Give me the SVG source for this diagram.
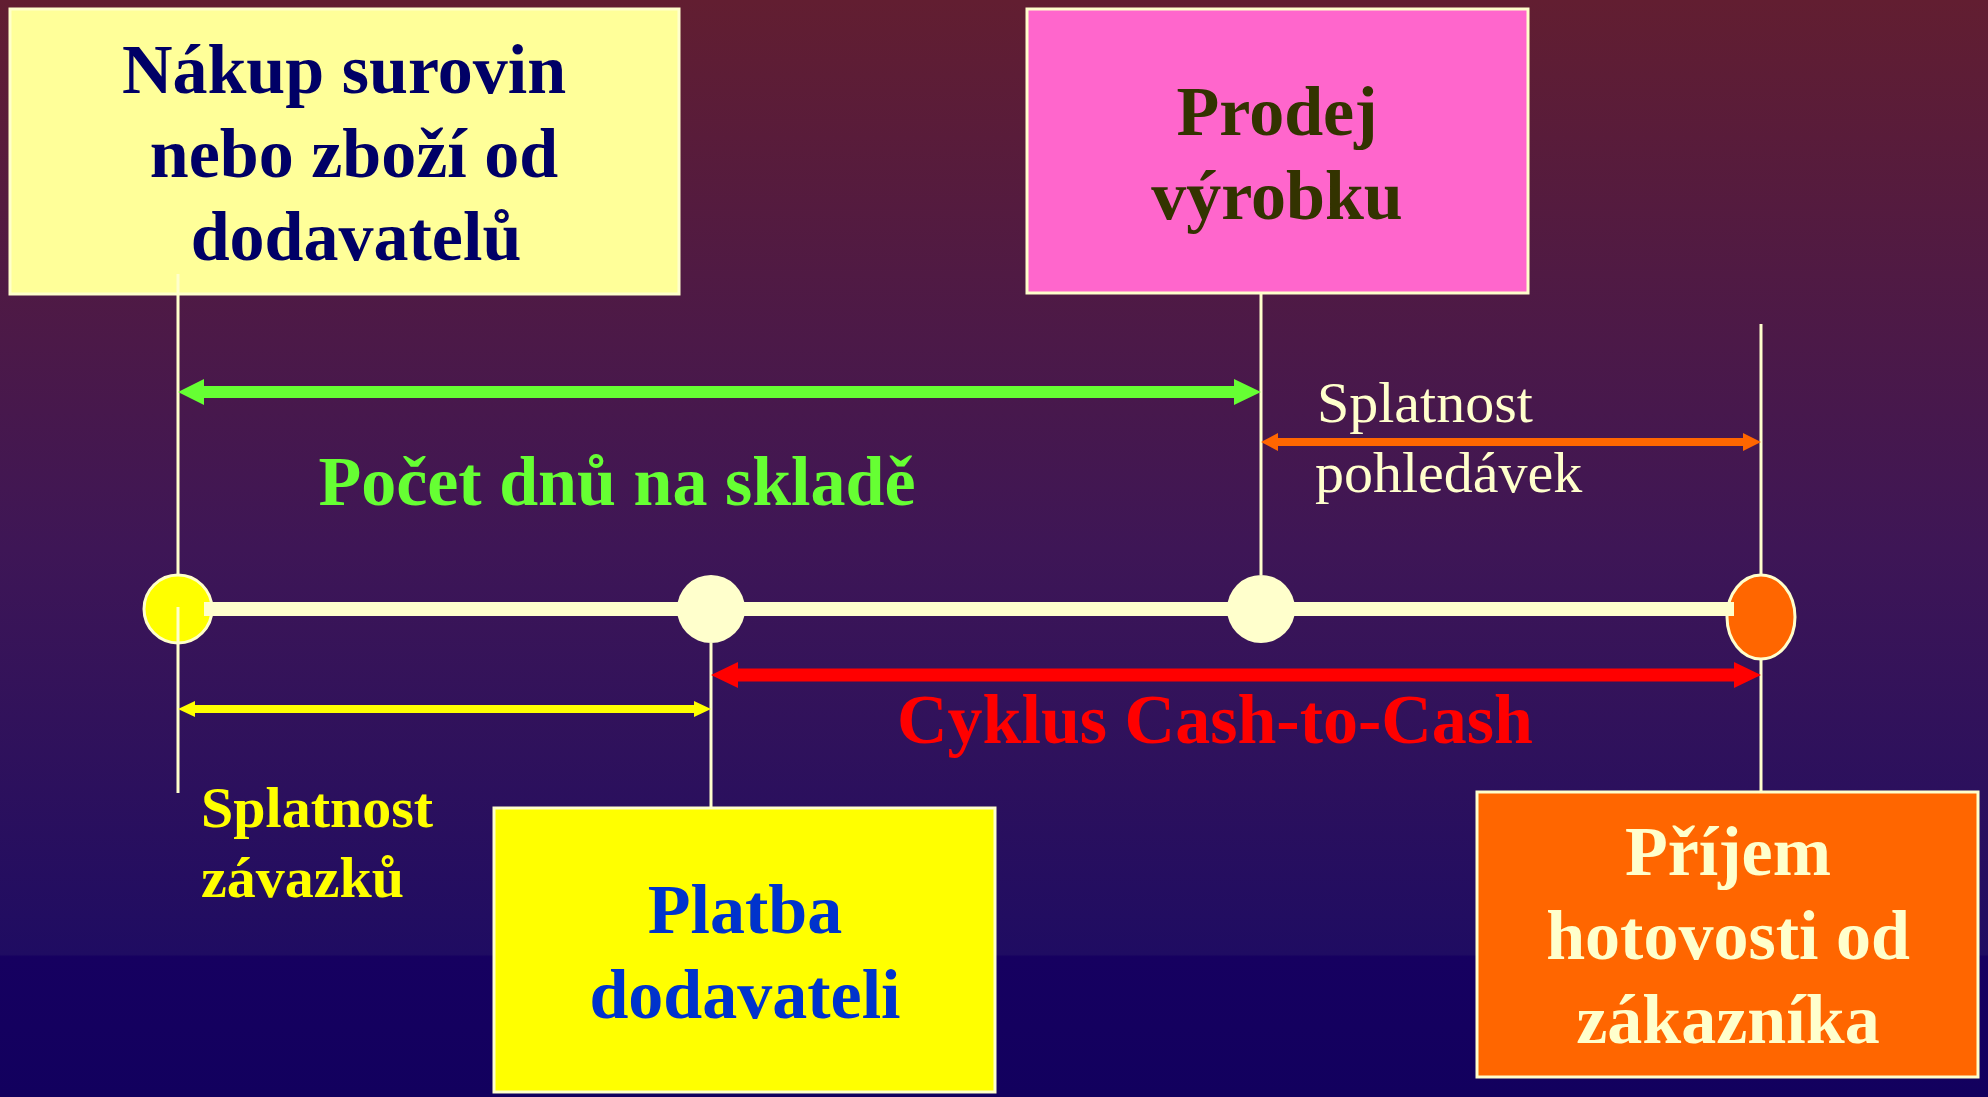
<svg xmlns="http://www.w3.org/2000/svg" width="1988" height="1097" viewBox="0 0 1988 1097">
<defs>
<linearGradient id="bg" x1="0" y1="0" x2="0" y2="1">
<stop offset="0" stop-color="#621E31"/>
<stop offset="0.5" stop-color="#3E1656"/>
<stop offset="0.87" stop-color="#1F0C62"/>
<stop offset="0.872" stop-color="#160060"/>
<stop offset="1" stop-color="#12005E"/>
</linearGradient>
<style>
.box{stroke:#FFFFCC;stroke-width:3}
.vl{stroke:#FFFFCC;stroke-width:3;fill:none}
.t{font-family:"Liberation Serif","Times New Roman",serif;font-weight:bold;font-size:70px;text-anchor:middle}
.lab{font-family:"Liberation Serif","Times New Roman",serif;font-size:58px}
</style>
</defs>
<rect x="0" y="0" width="1988" height="1097" fill="url(#bg)"/>

<g id="node-nakup">
<rect class="box" x="10" y="9" width="669" height="285" fill="#FFFF99"/>
<text class="t" fill="#000066"><tspan x="344" y="93">Nákup surovin</tspan><tspan x="354" y="177">nebo zboží od</tspan><tspan x="356" y="260">dodavatelů</tspan></text>
</g>
<g id="node-prodej">
<rect class="box" x="1027" y="9" width="501" height="284" fill="#FF66CC"/>
<text class="t" fill="#333300"><tspan x="1277" y="135">Prodej</tspan><tspan x="1277" y="219">výrobku</tspan></text>
</g>
<g id="node-platba">
<rect class="box" x="494" y="808" width="501" height="284" fill="#FFFF00"/>
<text class="t" fill="#0033CC"><tspan x="745" y="933">Platba</tspan><tspan x="745" y="1018">dodavateli</tspan></text>
</g>
<g id="node-prijem">
<rect class="box" x="1477" y="792" width="501" height="285" fill="#FF6600"/>
<text class="t" fill="#FFFFCC"><tspan x="1728" y="875">Příjem</tspan><tspan x="1728" y="959">hotovosti od</tspan><tspan x="1728" y="1043">zákazníka</tspan></text>
</g>

<g id="timeline">
<ellipse cx="178" cy="609" rx="34" ry="34" fill="#FFFF00" stroke="#FFFFCC" stroke-width="3"/>
<ellipse cx="711" cy="609" rx="34" ry="34" fill="#FFFFCC"/>
<ellipse cx="1261" cy="609" rx="34" ry="34" fill="#FFFFCC"/>
<ellipse cx="1761" cy="617" rx="34" ry="42" fill="#FF6600" stroke="#FFFFCC" stroke-width="3"/>
<rect x="204" y="602" width="1530" height="14" fill="#FFFFCC"/>
</g>

<g id="connectors">
<path class="vl" d="M178 274V575M178 607V793M711 643V808M1261 293V575M1761 324V575M1761 660V792"/>
<path fill="#66FF33" d="M178 392L204 379V386H1234V379L1261 392L1234 405V398H204V405Z"/>
<path fill="#FF6600" d="M1261 442L1278 433V438H1743V433L1761 442L1743 451V446H1278V451Z"/>
<path fill="#FF0000" d="M711 675L738 662V668.5H1734V662L1761 675L1734 688V681.5H738V688Z"/>
<path fill="#FFFF00" d="M178 709L195 701V705H694V701L711 709L694 717V713H195V717Z"/>
</g>

<g id="labels">
<text class="t" x="617" y="505" fill="#66FF33">Počet dnů na skladě</text>
<text class="t" x="1215" y="743" fill="#FF0000">Cyklus Cash-to-Cash</text>
<text class="lab" fill="#FFFFCC"><tspan x="1317" y="422">Splatnost</tspan><tspan x="1315" y="492">pohledávek</tspan></text>
<text class="lab" font-weight="bold" fill="#FFFF00"><tspan x="201" y="827">Splatnost</tspan><tspan x="201" y="897">závazků</tspan></text>
</g>
</svg>
